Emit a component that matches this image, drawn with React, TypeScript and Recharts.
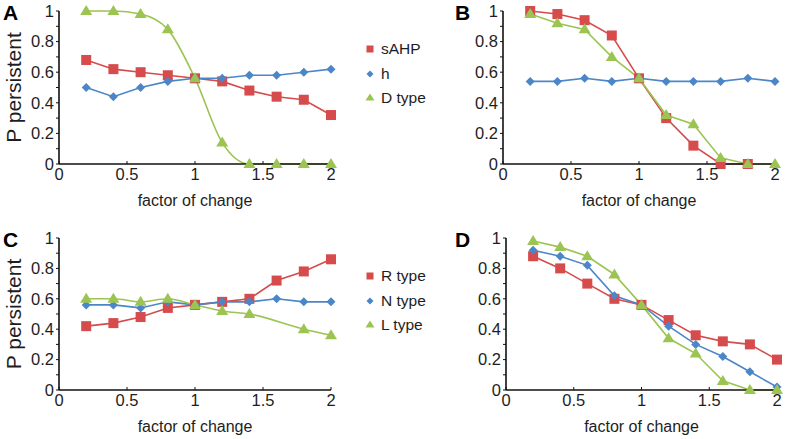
import React from "react";
import { LineChart, Line, XAxis, YAxis, Legend } from "recharts";

const factor = [0.2, 0.4, 0.6, 0.8, 1.0, 1.2, 1.4, 1.6, 1.8, 2.0];
const xTicks = [0, 0.5, 1, 1.5, 2];
const yTicks = [0, 0.1, 0.2, 0.3, 0.4, 0.5, 0.6, 0.7, 0.8, 0.9, 1];
const yLabels = ["0", "", "0.2", "", "0.4", "", "0.6", "", "0.8", "", "1"];

// panel A / B : sAHP, h, D type
const aSahp = [0.68, 0.62, 0.6, 0.58, 0.56, 0.54, 0.48, 0.44, 0.42, 0.32];
const aH = [0.5, 0.44, 0.5, 0.54, 0.56, 0.56, 0.58, 0.58, 0.6, 0.62];
const aDtype = [1.0, 1.0, 0.98, 0.88, 0.56, 0.14, 0, 0, 0, 0];

const bSahp = [1.0, 0.98, 0.94, 0.84, 0.56, 0.3, 0.12, 0, 0, null];
const bH = [0.54, 0.54, 0.56, 0.54, 0.56, 0.54, 0.54, 0.54, 0.56, 0.54];
const bDtype = [0.98, 0.92, 0.88, 0.7, 0.56, 0.32, 0.26, 0.04, 0, 0];

// panel C / D : R type, N type, L type
const cR = [0.42, 0.44, 0.48, 0.54, 0.56, 0.58, 0.6, 0.72, 0.78, 0.86];
const cN = [0.56, 0.56, 0.54, 0.58, 0.56, 0.58, 0.58, 0.6, 0.58, 0.58];
const cL = [0.6, 0.6, 0.58, 0.6, 0.56, 0.52, 0.5, null, 0.4, 0.36];

const dR = [0.88, 0.8, 0.7, 0.6, 0.56, 0.46, 0.36, 0.32, 0.3, 0.2];
const dN = [0.92, 0.88, 0.82, 0.62, 0.56, 0.42, 0.3, 0.22, 0.12, 0.02];
const dL = [0.98, 0.94, 0.88, 0.76, 0.56, 0.34, 0.24, 0.06, 0, 0];

const namesTop = ["sAHP", "h", "D type"];
const namesBottom = ["R type", "N type", "L type"];

const RED = "#d64b4b";
const BLUE = "#4b86c8";
const GREEN = "#9cc452";
const FONT = "'Liberation Sans', Arial, sans-serif";
const TXT = "#1e1e1e";

const build = (s1: (number | null)[], s2: (number | null)[], s3: (number | null)[]) =>
  factor.map((x, i) => ({ x, s1: s1[i], s2: s2[i], s3: s3[i] }));

type Shape = "square" | "diamond" | "triangle";

const Marker = ({ t, cx, cy, r, color }: { t: Shape; cx: number; cy: number; r: number; color: string }) => {
  if (t === "square") return <rect x={cx - r} y={cy - r} width={2 * r} height={2 * r} fill={color} />;
  if (t === "diamond")
    return <polygon points={`${cx},${cy - r} ${cx + r},${cy} ${cx},${cy + r} ${cx - r},${cy}`} fill={color} />;
  return <polygon points={`${cx},${cy - r - 1} ${cx + r + 1},${cy + r - 1} ${cx - r - 1},${cy + r - 1}`} fill={color} />;
};

const makeDot = (t: Shape, r: number, color: string) => (props: any) => {
  const { cx, cy, index, value } = props;
  if (value == null || cx == null || cy == null) return <g key={`n${index}`} />;
  return <Marker key={`d${index}`} t={t} cx={cx} cy={cy} r={r} color={color} />;
};

const LegendBox = ({ names }: { names: string[] }) => {
  const items: { t: Shape; c: string; r: number }[] = [
    { t: "square", c: RED, r: 3.5 },
    { t: "diamond", c: BLUE, r: 3.5 },
    { t: "triangle", c: GREEN, r: 3.5 },
  ];
  return (
    <div style={{ fontFamily: FONT, fontSize: 15.5, color: TXT, whiteSpace: "nowrap" }}>
      {items.map((it, i) => (
        <div key={i} style={{ display: "flex", alignItems: "center", height: 24.5 }}>
          <svg width={12} height={12} style={{ marginRight: 5 }}>
            <Marker t={it.t} cx={6} cy={6} r={it.r} color={it.c} />
          </svg>
          <span>{names[i]}</span>
        </div>
      ))}
    </div>
  );
};

type PanelProps = {
  left: number;
  top: number;
  width: number;
  height: number;
  margin: { top: number; right: number; bottom: number; left: number };
  data: any[];
  names: string[];
  letter: string;
  letterPos: { x: number; y: number };
  showYLabel: boolean;
  legendPos?: { x: number; y: number };
  smoothGreen: boolean;
};

const Panel = (p: PanelProps) => {
  const tickStyle = { fontSize: 16.5, fill: TXT, fontFamily: FONT };
  return (
    <div style={{ position: "absolute", left: p.left, top: p.top, width: p.width, height: p.height }}>
      <LineChart width={p.width} height={p.height} data={p.data} margin={p.margin}>
        <XAxis
          dataKey="x"
          type="number"
          domain={[0, 2]}
          ticks={xTicks}
          tickFormatter={(v) => String(v)}
          axisLine={{ stroke: "#111", strokeWidth: 1.6 }}
          tickLine={{ stroke: "#111" }}
          tickSize={-3}
          tickMargin={7}
          tick={tickStyle}
          height={42}
          interval={0}
          label={{ value: "factor of change", position: "insideBottom", offset: 0, style: { fontSize: 16, fill: TXT, fontFamily: FONT } }}
        />
        <YAxis
          type="number"
          domain={[0, 1]}
          ticks={yTicks}
          tickFormatter={(v, i) => yLabels[i]}
          axisLine={{ stroke: "#111", strokeWidth: 1.6 }}
          tickLine={{ stroke: "#111" }}
          tickSize={3}
          tickMargin={2}
          tick={tickStyle}
          width={45}
          interval={0}
          label={
            p.showYLabel
              ? {
                  content: (lp: any) => {
                    const vb = lp.viewBox;
                    return (
                      <text
                        x={vb.x - 1}
                        y={vb.y + vb.height / 2}
                        transform={`rotate(-90 ${vb.x - 1} ${vb.y + vb.height / 2})`}
                        textAnchor="middle"
                        dominantBaseline="central"
                        style={{ fontSize: 21, fill: TXT, fontFamily: FONT }}
                      >
                        P persistent
                      </text>
                    );
                  },
                }
              : undefined
          }
        />
        {p.legendPos && (
          <Legend
            layout="vertical"
            align="center"
            verticalAlign="middle"
            wrapperStyle={{ position: "absolute", left: p.legendPos.x, top: p.legendPos.y, width: 80 }}
            content={() => <LegendBox names={p.names} />}
          />
        )}
        <Line
          dataKey="s1"
          name={p.names[0]}
          stroke={RED}
          strokeWidth={1.6}
          type="linear"
          dot={makeDot("square", 5, RED)}
          activeDot={false}
          isAnimationActive={false}
        />
        <Line
          dataKey="s2"
          name={p.names[1]}
          stroke={BLUE}
          strokeWidth={1.6}
          type="linear"
          dot={makeDot("diamond", 4.5, BLUE)}
          activeDot={false}
          isAnimationActive={false}
        />
        <Line
          dataKey="s3"
          name={p.names[2]}
          stroke={GREEN}
          strokeWidth={1.6}
          type={p.smoothGreen ? "monotone" : "linear"}
          connectNulls
          dot={makeDot("triangle", 5, GREEN)}
          activeDot={false}
          isAnimationActive={false}
        />
      </LineChart>
      <div
        style={{
          position: "absolute",
          left: p.letterPos.x,
          top: p.letterPos.y,
          fontFamily: FONT,
          fontWeight: "bold",
          fontSize: 21,
          color: "#000",
          lineHeight: 1,
        }}
      >
        {p.letter}
      </div>
    </div>
  );
};

export default function App() {
  return (
    <div style={{ position: "absolute", left: 0, top: 0, width: 787, height: 439, background: "#fff", overflow: "hidden" }}>
      <Panel
        left={0}
        top={0}
        width={400}
        height={215}
        margin={{ top: 11, right: 69, bottom: 9, left: 14 }}
        data={build(aSahp, aH, aDtype)}
        names={namesTop}
        letter="A"
        letterPos={{ x: 3, y: 2 }}
        showYLabel
        legendPos={{ x: 364, y: 37 }}
        smoothGreen
      />
      <Panel
        left={400}
        top={0}
        width={387}
        height={215}
        margin={{ top: 11, right: 12, bottom: 9, left: 58 }}
        data={build(bSahp, bH, bDtype)}
        names={namesTop}
        letter="B"
        letterPos={{ x: 55, y: 2 }}
        showYLabel={false}
        smoothGreen={false}
      />
      <Panel
        left={0}
        top={215}
        width={400}
        height={224}
        margin={{ top: 23, right: 69, bottom: 7, left: 14 }}
        data={build(cR, cN, cL)}
        names={namesBottom}
        letter="C"
        letterPos={{ x: 3, y: 14 }}
        showYLabel
        legendPos={{ x: 364, y: 49 }}
        smoothGreen
      />
      <Panel
        left={400}
        top={215}
        width={387}
        height={224}
        margin={{ top: 23, right: 10, bottom: 7, left: 61 }}
        data={build(dR, dN, dL)}
        names={namesBottom}
        letter="D"
        letterPos={{ x: 55, y: 14 }}
        showYLabel={false}
        smoothGreen={false}
      />
    </div>
  );
}
